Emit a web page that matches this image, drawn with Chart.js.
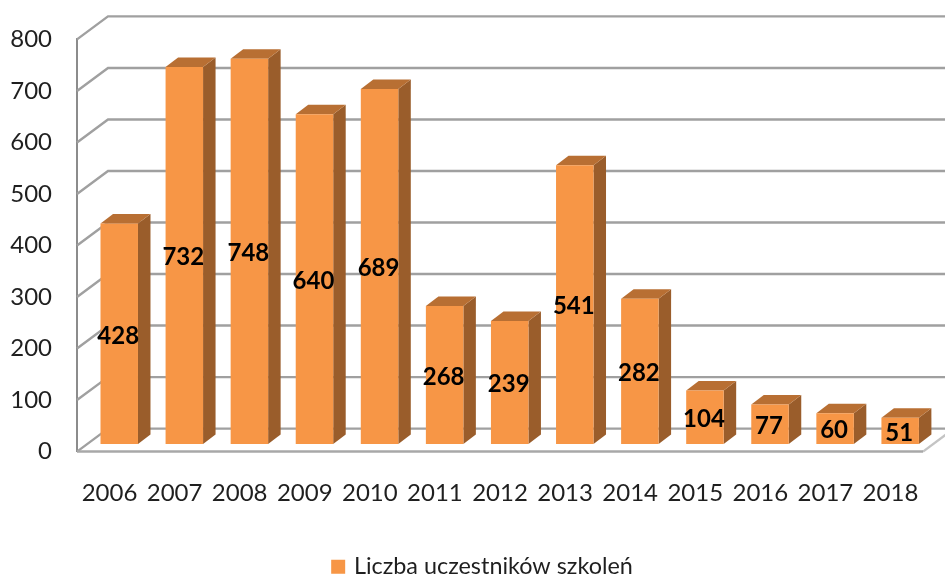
<!DOCTYPE html>
<html><head><meta charset="utf-8">
<style>html,body{margin:0;padding:0;background:#fff}canvas{display:block}</style>
<script src="https://cdn.jsdelivr.net/npm/chart.js@4"></script></head>
<body><canvas id="c" width="945" height="577"></canvas>
<script>
const categories=["2006","2007","2008","2009","2010","2011","2012","2013","2014","2015","2016","2017","2018"];
const participants=[428,732,748,640,689,268,239,541,282,104,77,60,51];
const seriesName="Liczba uczestników szkoleń";
const yTicks=[0,100,200,300,400,500,600,700,800];
const FONT="Lato";
const back={dx:31,dy:-23}, bar={dx:9.7,dy:-7.5}, side={dx:12.5,dy:-9.5};
const GRID="#a0a0a0";

const wall={id:"wall",beforeDatasetsDraw(ch){
  const {ctx,scales:{y},chartArea:a}=ch;
  ctx.save();ctx.strokeStyle=GRID;ctx.lineWidth=2.4;
  yTicks.forEach(v=>{const p=y.getPixelForValue(v);
    ctx.beginPath();ctx.moveTo(a.left,p);ctx.lineTo(a.left+back.dx,p+back.dy);ctx.lineTo(a.right+back.dx,p+back.dy);ctx.stroke();});
  const p0=y.getPixelForValue(0);
  ctx.beginPath();ctx.moveTo(a.right,p0);ctx.lineTo(a.right+back.dx,p0+back.dy);ctx.strokeStyle="#c4c4c4";ctx.stroke();
  ctx.beginPath();ctx.moveTo(a.left,p0);ctx.lineTo(a.right,p0);ctx.strokeStyle="#a8a8a8";ctx.lineWidth=2.5;ctx.stroke();
  ctx.restore();
  ctx.save();ctx.translate(bar.dx,bar.dy);
  ch.getDatasetMeta(0).data.forEach(e=>{
    const l=e.x-e.width/2,r=e.x+e.width/2,t=e.y,b=e.base;
    ctx.fillStyle="#9A5D2B";ctx.beginPath();ctx.moveTo(r,t);ctx.lineTo(r+side.dx,t+side.dy);ctx.lineTo(r+side.dx,b+side.dy);ctx.lineTo(r,b);ctx.closePath();ctx.fill();
    ctx.fillStyle="#B86F33";ctx.beginPath();ctx.moveTo(l,t);ctx.lineTo(l+side.dx,t+side.dy);ctx.lineTo(r+side.dx,t+side.dy);ctx.lineTo(r,t);ctx.closePath();ctx.fill();
  });
},afterDatasetsDraw(ch){
  const {ctx}=ch;
  ctx.fillStyle="#000";ctx.font="bold 24px "+FONT;ctx.textAlign="center";ctx.textBaseline="middle";
  ch.getDatasetMeta(0).data.forEach((e,i)=>{ctx.fillText(String(participants[i]),e.x-1,(e.y+e.base)/2+2);});
  ctx.restore();
}};
const legendPos={id:"legendPos",afterLayout(ch){const L=ch.legend;const h=L.bottom-L.top,w=L.right-L.left;
  L.left+=22;L.right=L.left+w;L.top=545;L.bottom=545+h;}};

new Chart(document.getElementById("c"),{
 type:"bar",
 data:{labels:categories,datasets:[{label:seriesName,data:participants,backgroundColor:"#F79646",barPercentage:0.576,categoryPercentage:1}]},
 plugins:[wall,legendPos],
 options:{responsive:false,animation:false,devicePixelRatio:1,
  layout:{padding:{left:0,right:22,top:38,bottom:0}},
  plugins:{tooltip:{enabled:false},title:{display:false},
   legend:{position:"bottom",labels:{boxWidth:8,boxHeight:8,padding:10,color:"#1f1f1f",font:{family:FONT,size:23.4},
     generateLabels(ch){const d=ch.data.datasets[0];return [{text:d.label,fillStyle:d.backgroundColor,strokeStyle:d.backgroundColor,lineWidth:6,hidden:false,datasetIndex:0,fontColor:"#1f1f1f"}];}}}},
  scales:{
   x:{afterFit(s){s.height=82;},grid:{display:false},border:{display:false},
      ticks:{padding:19,color:"#1f1f1f",font:{family:FONT,size:24},maxRotation:0,autoSkip:false}},
   y:{min:0,max:800,afterFit(s){s.width=77;},grid:{display:false,drawTicks:false},border:{display:true,color:"#8c8c8c",width:2},
      ticks:{stepSize:100,padding:25,color:"#1f1f1f",font:{family:FONT,size:24}}}
  }}
});
</script></body></html>
